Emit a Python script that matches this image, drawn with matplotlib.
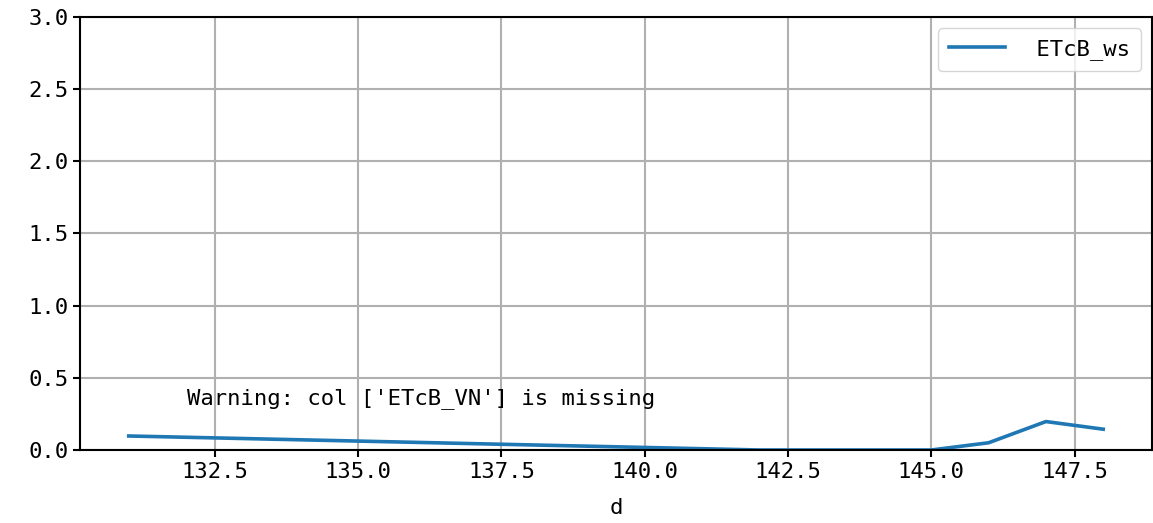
import matplotlib
matplotlib.use("Agg")
import matplotlib.pyplot as plt

# Data
days = [131, 142, 145, 146, 147, 148]
etcb_ws = [0.097, 0.0, 0.0, 0.05, 0.197, 0.144]
missing_cols = ["ETcB_VN"]

plt.rcParams["font.family"] = ["DejaVu Sans Mono"]
plt.rcParams["font.size"] = 16

fig = plt.figure(figsize=(11.53, 5.23), dpi=100)
ax = fig.add_axes([0.0694, 0.1396, 0.9297, 0.828])

ax.plot(days, etcb_ws, color="#1f77b4", lw=2.6, label=" ETcB_ws")
ax.set_ylim(0, 3.0)
ax.set_xlabel("d", labelpad=12)
ax.grid(True, color="#b0b0b0", lw=1.5)

for s in ax.spines.values():
    s.set_linewidth(1.5)
ax.tick_params(width=1.5, length=5, labelsize=16)

ax.text(0.1, 0.105, f"Warning: col {missing_cols} is missing",
        transform=ax.transAxes, fontsize=16)

ax.legend(loc="upper right", handlelength=2.5, borderpad=0.5,
          fancybox=True, framealpha=0.8)

fig.savefig("out.png", dpi=100)
